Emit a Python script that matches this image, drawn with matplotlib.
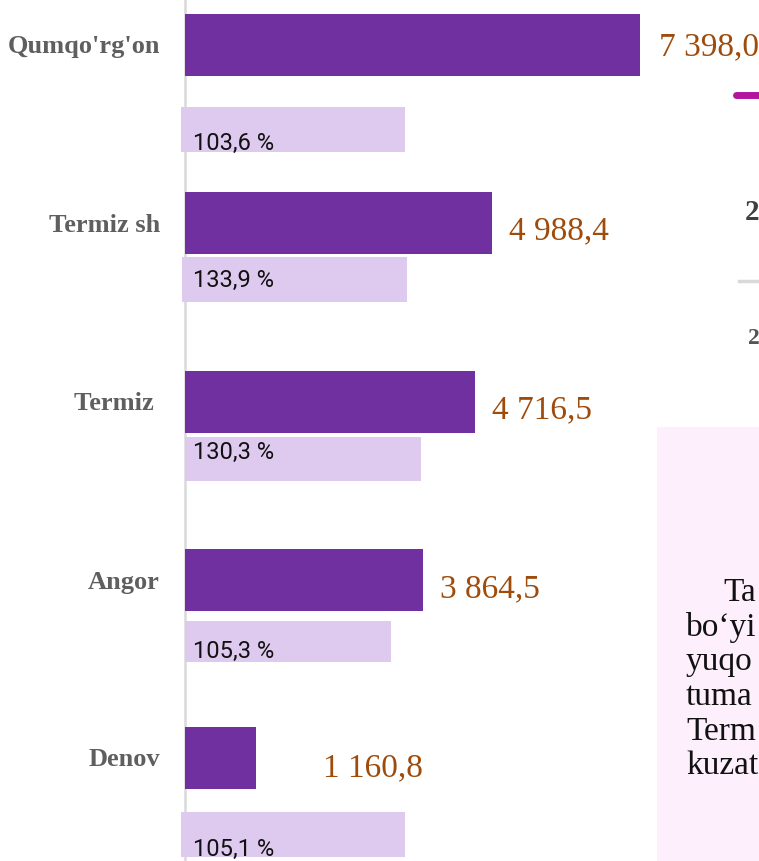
import matplotlib.pyplot as plt
from matplotlib.patches import Rectangle

# data
districts = ["Qumqo'rg'on", "Termiz sh", "Termiz ", "Angor", "Denov"]
volume = [7398.0, 4988.4, 4716.5, 3864.5, 1160.8]
growth = [103.6, 133.9, 130.3, 105.3, 105.1]
volume_labels = ["7 398,0", "4 988,4", "4 716,5", "3 864,5", "1 160,8"]
growth_labels = ["103,6 %", "133,9 %", "130,3 %", "105,3 %", "105,1 %"]
legend_years = ["2", "2"]          # only the first digit is visible at the edge
note_lines = ["Ta", "bo\u2018yi", "yuqo", "tuma", "Term", "kuzat"]

# layout (pixels of the 759x861 picture)
W, H = 759, 861
x0 = 185                      # value axis at this pixel
scale = 455 / 7398.0          # px per unit
bar_y = [45, 223, 402, 580, 758]
bar_h = 62
light_top = [107, 257, 437, 621, 812]
light_bot = [152, 302, 481, 662, 857]
light_x = [(181, 405), (182, 407), (185, 421), (185, 391), (181, 405)]
pct_base = [150, 287, 459, 658, 856]
val_gap = [19, 17, 17, 17, 67]
val_base = [55, 239, 418, 597, 776]

dark = '#7030A0'
light = '#DFCAEF'
brown = '#9E4B0B'


def px2x(px):
    return (px - x0) / scale


fig = plt.figure(figsize=(W / 100, H / 100), dpi=100)
ax = fig.add_axes([0, 0, 1, 1])
ax.set_xlim(px2x(0), px2x(W))
ax.set_ylim(H, 0)
ax.axis('off')

# light bars (growth %) - separate shapes on the slide
for i in range(len(districts)):
    a, b = light_x[i]
    ax.barh((light_top[i] + light_bot[i]) / 2, px2x(b) - px2x(a),
            height=light_bot[i] - light_top[i], left=px2x(a),
            color=light, zorder=1)
    ax.text(px2x(193), pct_base[i], growth_labels[i], fontsize=17,
            family='Roboto', va='baseline', ha='left', color='#111111',
            zorder=3)

# main bars
ax.barh(bar_y, volume, height=bar_h, left=0, color=dark, zorder=2)
for i, v in enumerate(volume):
    ax.text(v + val_gap[i] / scale, val_base[i], volume_labels[i],
            fontsize=24, family='Liberation Serif', color=brown,
            va='baseline', ha='left')
    ax.text(px2x(160), bar_y[i] + 2, districts[i], fontsize=19,
            family='Liberation Serif', weight='bold', color='#5F5F5F',
            va='center', ha='right')

ax.plot([0, 0], [0, H], color='#D9D9D9', lw=1.8, zorder=0)

# pieces of the neighbouring legend, cut by the slide edge
ax.plot([px2x(736), px2x(765)], [95, 95], color='#B2169F', lw=5,
        solid_capstyle='round')
ax.text(px2x(745), 213, legend_years[0], fontsize=21, family='Liberation Serif',
        weight='bold', color='#3F3F3F', va='center', ha='left')
ax.plot([px2x(739), px2x(765)], [281, 281], color='#D9D9D9', lw=2.5)
ax.text(px2x(748), 338, legend_years[1], fontsize=17, family='Liberation Serif',
        weight='bold', color='#555555', va='center', ha='left')

# note box
ax.add_patch(Rectangle((px2x(657), 427), px2x(W + 5) - px2x(657), H - 427 + 5,
                       facecolor='#FDF0FC', edgecolor='none', zorder=0))
for k, line in enumerate(note_lines):
    xs = 723 if k == 0 else 686
    ax.text(px2x(xs), 593 + k * 34.6, line, fontsize=24,
            family='Liberation Serif', color='#111111', va='center', ha='left')

fig.savefig('out.png', dpi=100)
